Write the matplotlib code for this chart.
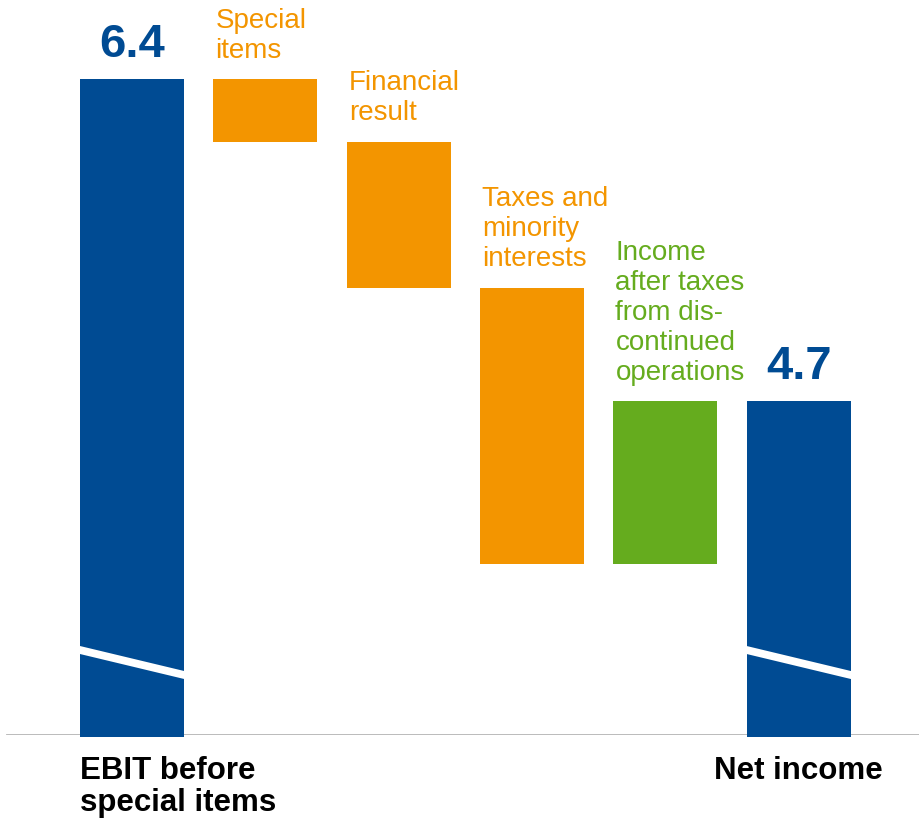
import matplotlib as mpl
mpl.use('Agg')
import matplotlib.pyplot as plt
import numpy as np

# waterfall: EBIT before special items -> net income (EUR bn)
labels = ['EBIT before\nspecial items', 'Special\nitems', 'Financial\nresult',
          'Taxes and\nminority\ninterests',
          'Income\nafter taxes\nfrom dis-\ncontinued\noperations',
          'Net income']
start_value = 6.4
steps = [-0.33, -0.77, -1.46, 0.86]
end_value = 4.7
kinds = ['total', 'neg', 'neg', 'neg', 'pos', 'total']

BLUE = '#004b93'
ORANGE = '#f39500'
GREEN = '#65ac1e'
colours = {'total': BLUE, 'neg': ORANGE, 'pos': GREEN}

Y_BOTTOM = 2.94   # axis is broken, bars start here visually
Y_TOP = 6.817

plt.rcParams['font.family'] = ['Liberation Sans', 'DejaVu Sans']

fig = plt.figure(figsize=(9.2, 8.19), dpi=100)
ax = fig.add_axes([0, 1 - 735 / 819, 1, 735 / 819])
ax.set_xlim(-0.99, 5.91)
ax.set_ylim(Y_BOTTOM, Y_TOP)
ax.axis('off')

width = 0.78
x = np.arange(len(labels))

# bar bottoms / tops
bottoms, tops = [Y_BOTTOM - 0.01], [start_value]
level = start_value
for s in steps:
    new = level + s
    bottoms.append(min(level, new))
    tops.append(max(level, new))
    level = new
bottoms.append(Y_BOTTOM - 0.01)
tops.append(end_value)

for i in range(len(labels)):
    ax.bar(x[i], tops[i] - bottoms[i], bottom=bottoms[i], width=width,
           color=colours[kinds[i]], clip_on=False, zorder=2)

# break marks on the total bars
for i in (0, len(labels) - 1):
    ax.plot([x[i] - width / 2 - 0.01, x[i] + width / 2 + 0.01], [3.39, 3.255],
            color='white', lw=5.6, solid_capstyle='butt', zorder=3)

# baseline
ax.axhline(Y_BOTTOM, xmin=7 / 920, xmax=1, color='#b4b4b4', lw=2, zorder=1)

# value labels for totals
for i, v in ((0, start_value), (len(labels) - 1, end_value)):
    ax.annotate(f'{v:.1f}', (x[i], tops[i]), xytext=(0, 9),
                textcoords='offset points', ha='center', va='bottom',
                fontsize=34, fontweight='bold', color=BLUE)

# step labels above each floating bar
for i in range(1, len(labels) - 1):
    ax.annotate(labels[i], (x[i] - width / 2, tops[i]), xytext=(1.5, 11),
                textcoords='offset points', ha='left', va='bottom',
                fontsize=20, color=colours[kinds[i]], linespacing=1.2)

# category labels below the totals
ax.text(x[0] - width / 2, Y_BOTTOM - 0.11, labels[0], ha='left', va='top',
        fontsize=22.5, fontweight='bold', color='black', linespacing=1.1)
ax.text(x[-1], Y_BOTTOM - 0.11, labels[-1], ha='center', va='top',
        fontsize=22.5, fontweight='bold', color='black')

fig.savefig('out.png', dpi=100)
